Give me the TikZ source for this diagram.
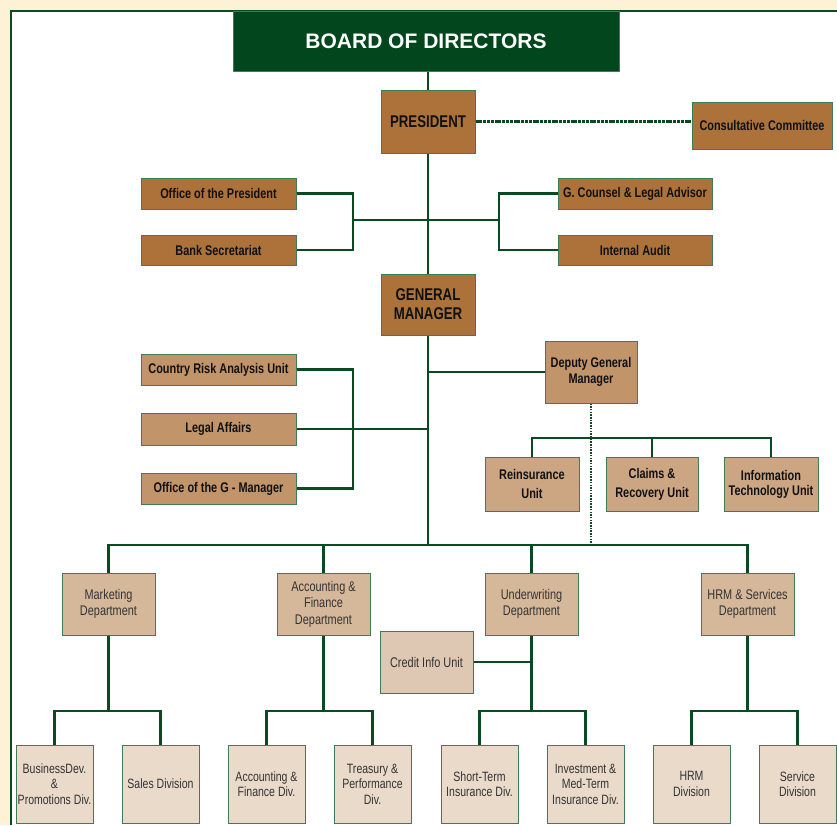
\documentclass[tikz,border=0pt]{standalone}
\usepackage{fontspec}
\setmainfont{Liberation Sans}[FakeStretch=0.78]
\newfontfamily\boardfont{Liberation Sans}
\definecolor{cream}{HTML}{FDF2D6}
\definecolor{frameg}{HTML}{0B4A25}
\definecolor{boardg}{HTML}{02461D}
\definecolor{lineg}{HTML}{0A4A23}
\definecolor{boxline}{HTML}{3E7B57}
\definecolor{brownA}{HTML}{AD723A}
\definecolor{brownB}{HTML}{C2946A}
\definecolor{brownC}{HTML}{CCA582}
\definecolor{deptc}{HTML}{D5B89A}
\definecolor{creditc}{HTML}{DFC8B3}
\definecolor{childc}{HTML}{E9DACA}
\definecolor{txtd}{HTML}{111111}
\definecolor{txtl}{HTML}{333333}
\tikzset{
  bx/.style={draw=boxline, line width=1pt, inner sep=1pt, align=center, anchor=center},
  boardbox/.style={bx, fill=boardg, text=white, font=\boardfont\bfseries\fontsize{21}{24}\selectfont, minimum width=386pt, minimum height=60pt},
  topbox/.style={bx, fill=brownA, text=txtd, font=\bfseries\fontsize{17}{19}\selectfont, minimum width=94pt},
  sidebox/.style={bx, fill=brownA, text=txtd, font=\bfseries\fontsize{14}{16}\selectfont},
  gmside/.style={bx, fill=brownB, text=txtd, font=\bfseries\fontsize{14}{16}\selectfont, minimum width=155pt},
  unitbox/.style={bx, fill=brownC, text=txtd, font=\bfseries\fontsize{14}{17}\selectfont, minimum height=54pt},
  deptbox/.style={bx, fill=deptc, text=txtl, font=\fontsize{14}{16.5}\selectfont, minimum width=93pt, minimum height=62pt},
  credbox/.style={bx, fill=creditc, text=txtl, font=\fontsize{14}{16.5}\selectfont, minimum width=93pt, minimum height=62pt},
  childbox/.style={bx, fill=childc, text=txtl, font=\fontsize{13.5}{15.5}\selectfont, minimum width=77pt, minimum height=78pt},
  conn/.style={draw=lineg, line width=2.6pt},
  dotconn/.style={draw=lineg, line width=2.4pt, dash pattern=on 3pt off 0.8pt},
  dotv/.style={draw=lineg, line width=1.3pt, dash pattern=on 1.5pt off 1.2pt}
}
\begin{document}
\begin{tikzpicture}[x=1pt,y=-1pt]
\useasboundingbox (0,0) rectangle (837,825);
\fill[cream] (0,0) rectangle (837,825);
\fill[white] (11,11) rectangle (837,825);
\draw[frameg, line width=2pt] (11,825) -- (11,11) -- (837,11);

% nodes
\node[boardbox] (board) at (426,41) {BOARD OF DIRECTORS};
\node[topbox, minimum height=63pt] (pres) at (428,121.5) {PRESIDENT};
\node[sidebox, minimum width=140pt, minimum height=47pt] (cc) at (762,125.5) {Consultative Committee};
\node[sidebox, minimum width=155pt, minimum height=31pt] (op) at (218.5,193.5) {Office of the President};
\node[sidebox, minimum width=155pt, minimum height=30pt] (bs) at (218.5,250) {Bank Secretariat};
\node[sidebox, minimum width=154pt, minimum height=31pt] (gc) at (635,193.5) {G. Counsel \& Legal Advisor};
\node[sidebox, minimum width=154pt, minimum height=30pt] (ia) at (635,250) {Internal Audit};
\node[topbox, minimum height=61pt, font=\bfseries\fontsize{17}{19}\selectfont] (gm) at (428,304.5) {GENERAL\\MANAGER};
\node[gmside, minimum height=31pt] (cr) at (218.5,369.5) {Country Risk Analysis Unit};
\node[gmside, minimum height=32pt] (la) at (218.5,429) {Legal Affairs};
\node[gmside, minimum height=31pt] (og) at (218.5,488.5) {Office of the G - Manager};
\node[bx, fill=brownB, text=txtd, font=\bfseries\fontsize{14}{16.5}\selectfont, minimum width=92pt, minimum height=62pt] (dgm) at (591,372) {Deputy General\\Manager};
\node[unitbox, minimum width=94pt, font=\bfseries\fontsize{14}{19}\selectfont] (re) at (532,484) {Reinsurance\\Unit};
\node[unitbox, minimum width=92pt, font=\bfseries\fontsize{14}{19}\selectfont] (cl) at (652,484) {Claims \&\\Recovery Unit};
\node[unitbox, minimum width=94pt, font=\bfseries\fontsize{14}{15}\selectfont] (it) at (771,484) {Information\\Technology Unit};
\node[deptbox] (mk) at (108.5,604) {Marketing\\Department};
\node[deptbox] (af) at (323.5,604) {Accounting \&\\Finance\\Department};
\node[deptbox] (uw) at (531.5,604) {Underwriting\\Department};
\node[deptbox] (hr) at (747.5,604) {HRM \& Services\\Department};
\node[credbox] (ci) at (426.5,662) {Credit Info Unit};
\node[childbox] (c1) at (54.5,784) {BusinessDev.\\\&\\Promotions Div.};
\node[childbox] (c2) at (160.5,784) {Sales Division};
\node[childbox] (c3) at (266.5,784) {Accounting \&\\Finance Div.};
\node[childbox] (c4) at (372.5,784) {Treasury \&\\Performance\\Div.};
\node[childbox] (c5) at (479.5,784) {Short-Term\\Insurance Div.};
\node[childbox] (c6) at (585.5,784) {Investment \&\\Med-Term\\Insurance Div.};
\node[childbox] (c7) at (691.5,784) {HRM\\Division};
\node[childbox] (c8) at (797.5,784) {Service\\Division};

% coordinates
\coordinate (lb) at (353,220);
\coordinate (rb) at (499,220);
\coordinate (lb2) at (353,429);
\coordinate (ub) at (591,438);
\coordinate (bus) at (428,545);
\coordinate (lowbus) at (0,711);

% connectors
\draw[conn] (board.south -| pres.north) -- (pres.north);
\draw[conn] (pres.south) -- (gm.north);
\draw[conn] (gm.south) -- (bus);
\draw[dotconn] (pres.east) -- (pres.east -| cc.west);
\draw[conn] (op.east) -| (lb) |- (bs.east);
\draw[conn] (lb) -- (rb);
\draw[conn] (gc.west) -| (rb) |- (ia.west);
\draw[conn] (cr.east) -| (lb2) |- (og.east);
\draw[conn] (la.east) -- (la.east -| gm.south);
\draw[conn] (dgm.west) -- (dgm.west -| gm.south);
\draw[conn] (re.north) -- (re.north |- ub) -| (it.north);
\draw[conn] (cl.north) -- (cl.north |- ub);
\draw[dotv] (dgm.south) -- (dgm.south |- bus);
\draw[conn] (mk.north) -- (mk.north |- bus) -| (hr.north);
\draw[conn] (af.north) -- (af.north |- bus);
\draw[conn] (uw.north) -- (uw.north |- bus);
\draw[conn] (ci.east) -- (ci.east -| uw.south);
\foreach \d/\a/\b in {mk/c1/c2, af/c3/c4, uw/c5/c6, hr/c7/c8}{
  \draw[conn] (\d.south) -- (\d.south |- lowbus);
  \draw[conn] (\a.north) |- (\d.south |- lowbus) -| (\b.north);
}
\end{tikzpicture}
\end{document}
